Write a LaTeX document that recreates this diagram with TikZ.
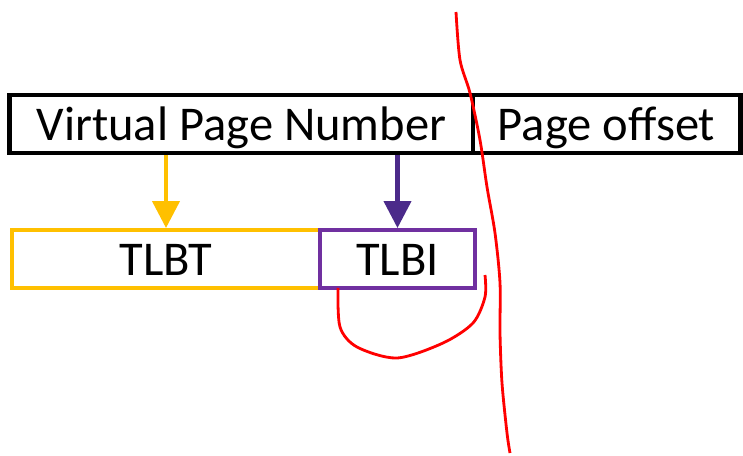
\documentclass[tikz,border=0pt]{standalone}
\usepackage{fontspec}
\setmainfont{Carlito}
\usetikzlibrary{arrows.meta}
\definecolor{tagyellow}{HTML}{FFC000}
\definecolor{idxpurple}{HTML}{7030A0}
\definecolor{arrpurple}{HTML}{4B2A8A}
\tikzset{field/.style= {draw, fill=white, inner sep=0pt, minimum height=1.45cm, text height=0.8cm, text depth=0pt, font=\fontsize{34.5}{40}\selectfont},
         fetch/.style= {-{Triangle[length=0.675cm,width=0.675cm]}, line width=3pt}}

\begin{document}
\begin{tikzpicture}[x=0.025cm,y=-0.025cm]
        \useasboundingbox (0,0) rectangle (743,455);

        % address fields
        \node[field, line width=3.5pt, minimum width=11.575cm](vpn)at(241.5,124){Virtual Page Number};
        \node[field, line width=3.5pt, minimum width=6.675cm](off)at(606.5,124){Page offset};

        \node[field, draw=tagyellow, line width=2.8pt, minimum width=7.7cm](tlbt)at(166,259){TLBT};
        \node[field, draw=idxpurple, line width=2.8pt, minimum width=3.875cm](tlbi)at(397.5,259){TLBI};

        \draw[fetch, tagyellow](vpn.south -| tlbt.north)--(tlbt.north);
        \draw[fetch, arrpurple](vpn.south -| tlbi.north)--(tlbi.north);

        % hand-drawn cuts
        \draw[red, line width=2pt] plot[smooth] coordinates {(456,12) (460,60) (470,93) (480,140) (487,187) (495,233) (500,283) (500,333) (502,383) (507,433) (510,453)};
        \draw[red, line width=2pt] plot[smooth] coordinates {(338,288) (340,327) (357,347) (397,358) (443,343) (473,323) (485,297) (485,275)};
    \end{tikzpicture}
\end{document}
